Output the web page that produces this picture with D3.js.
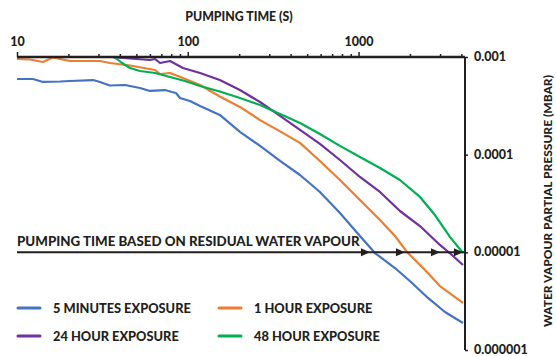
<!DOCTYPE html>
<html>
<head>
<meta charset="utf-8">
<script src="https://cdn.jsdelivr.net/npm/d3@7"></script>
<style>
  body { margin: 0; background: #fff; }
  text { font-family: Lato, "Open Sans", sans-serif; font-weight: 900; fill: #231f20; }
</style>
</head>
<body>
<div id="chart"></div>
<script>
// pumping time (s) and water vapour partial pressure (mbar)
const timeBlue = [10, 12.4, 14.2, 17.9, 20.4, 27.9, 30.6, 35.0, 42.9, 52.5, 60.1, 73.6, 80.8, 85.3, 90.0, 103, 118, 154, 202, 265, 347, 454, 594, 778, 1019, 1247, 1634, 2027, 2549, 3206, 4086];
const presBlue = [5.95e-4, 5.95e-4, 5.55e-4, 5.61e-4, 5.68e-4, 5.81e-4, 5.55e-4, 5.11e-4, 5.17e-4, 4.82e-4, 4.49e-4, 4.59e-4, 4.38e-4, 4.28e-4, 3.80e-4, 3.54e-4, 3.15e-4, 2.55e-4, 1.71e-4, 1.23e-4, 8.62e-5, 6.19e-5, 4.15e-5, 2.53e-5, 1.47e-5, 9.84e-6, 6.91e-6, 4.97e-6, 3.41e-6, 2.45e-6, 1.89e-6];

const timeOrange = [10, 11.9, 14.2, 16.2, 20.4, 30.6, 35.0, 45.9, 64.3, 68.8, 78.7, 93.7, 118, 154, 202, 265, 347, 454, 594, 778, 1019, 1335, 1634, 1920, 2448, 2996, 4086];
const presOrange = [9.54e-4, 9.43e-4, 8.89e-4, 9.9e-4, 9.1e-4, 9.1e-4, 8.68e-4, 8.18e-4, 7.36e-4, 6.70e-4, 6.86e-4, 6.10e-4, 5.17e-4, 3.94e-4, 3.08e-4, 2.26e-4, 1.73e-4, 1.32e-4, 8.62e-5, 5.50e-5, 3.43e-5, 2.14e-5, 1.47e-5, 1.01e-5, 6.59e-6, 4.52e-6, 3.03e-6];

const timePurple = [36.5, 45.9, 60.1, 64.3, 68.8, 78.7, 93.7, 118, 154, 202, 265, 347, 454, 594, 778, 1019, 1335, 1747, 2288, 2996, 3522, 4086];
const presPurple = [9.95e-4, 9.65e-4, 9.32e-4, 9.54e-4, 8.68e-4, 9.1e-4, 7.72e-4, 6.86e-4, 5.81e-4, 4.59e-4, 3.46e-4, 2.49e-4, 1.79e-4, 1.29e-4, 8.82e-5, 5.91e-5, 4.15e-5, 2.65e-5, 1.86e-5, 1.19e-5, 9.39e-6, 7.42e-6];

const timeGreen = [37.0, 38.5, 41.2, 45.9, 52.5, 64.3, 78.7, 96.3, 118, 154, 202, 265, 347, 454, 594, 778, 1019, 1335, 1747, 2288, 2801, 3428, 4086];
const presGreen = [1.0e-3, 9.54e-4, 8.68e-4, 7.72e-4, 7.19e-4, 6.86e-4, 6.24e-4, 5.68e-4, 5.05e-4, 4.43e-4, 3.80e-4, 3.23e-4, 2.61e-4, 2.11e-4, 1.63e-4, 1.23e-4, 9.46e-5, 7.30e-5, 5.50e-5, 3.69e-5, 2.41e-5, 1.44e-5, 9.84e-6];

const seriesNames = ['5 MINUTES EXPOSURE', '1 HOUR EXPOSURE', '24 HOUR EXPOSURE', '48 HOUR EXPOSURE'];
const seriesColors = ['#4472c4', '#ed7d31', '#7030a0', '#00b050'];

const xTicks = [10, 100, 1000];
const yTicks = [0.001, 0.0001, 0.00001, 0.000001];
const yTickLabels = ['0.001', '0.0001', '0.00001', '0.000001'];

// residual water vapour level and the pumping times where each curve reaches it
const residualLevel = 0.00001;
const crossTimes = [1166, 1869, 2996, 4086];

const width = 556, height = 356;
const margin = {left: 17, right: 465, top: 57, bottom: 350};

const svg = d3.select('#chart').append('svg')
  .attr('width', width)
  .attr('height', height);

const x = d3.scaleLog().domain([10, 4200]).range([margin.left, margin.right]);
const y = d3.scaleLog().domain([0.001, 0.000001]).range([margin.top, margin.bottom]);

const series = [
  d3.zip(timeBlue, presBlue),
  d3.zip(timeOrange, presOrange),
  d3.zip(timePurple, presPurple),
  d3.zip(timeGreen, presGreen)
];

const line = d3.line()
  .x(d => x(d[0]))
  .y(d => y(d[1]));

// curves
svg.append('g').selectAll('path')
  .data(series)
  .enter().append('path')
  .attr('d', line)
  .attr('fill', 'none')
  .attr('stroke', (d, i) => seriesColors[i])
  .attr('stroke-width', 2.2)
  .attr('stroke-linejoin', 'round');

// top x axis with minor ticks
const minor = [];
for (let dec = 10; dec < 4200; dec *= 10) {
  for (let k = 1; k < 10; k++) if (dec * k <= 4200) minor.push(dec * k);
}
const xAxis = svg.append('g')
  .attr('class', 'axis axis-x')
  .attr('transform', `translate(0,${margin.top})`)
  .call(d3.axisTop(x).tickValues(minor).tickSize(3).tickFormat(d => xTicks.includes(d) ? d : ''));
xAxis.select('.domain').attr('stroke', '#231f20').attr('stroke-width', 2.5).attr('d', `M${margin.left},0H${margin.right}`);
xAxis.selectAll('.tick line').attr('stroke', '#231f20').attr('stroke-width', 1.5)
  .attr('y2', d => xTicks.includes(d) ? -5 : -3);
xAxis.selectAll('.tick text').attr('y', -11).style('font-size', '12.5px');

// right y axis
const yAxis = svg.append('g')
  .attr('class', 'axis axis-y')
  .attr('transform', `translate(${margin.right},0)`)
  .call(d3.axisRight(y).tickValues(yTicks).tickSize(3).tickFormat((d, i) => yTickLabels[i]));
yAxis.select('.domain').attr('stroke', '#231f20').attr('stroke-width', 2).attr('d', `M0,${margin.top}V${margin.bottom}`);
yAxis.selectAll('.tick line').attr('stroke', '#231f20').attr('stroke-width', 1.5);
yAxis.selectAll('.tick text').attr('x', 9).attr('dy', '0.28em').style('font-size', '12.5px');

// axis titles
svg.append('text')
  .attr('x', 239).attr('y', 21)
  .attr('text-anchor', 'middle')
  .style('font-size', '12.3px')
  .text('PUMPING TIME (S)');

svg.append('text')
  .attr('transform', `translate(552,201) rotate(-90)`)
  .attr('text-anchor', 'middle')
  .style('font-size', '12px')
  .text('WATER VAPOUR PARTIAL PRESSURE (MBAR)');

// residual water vapour line with arrows
svg.append('line')
  .attr('x1', margin.left).attr('x2', margin.right)
  .attr('y1', y(residualLevel)).attr('y2', y(residualLevel))
  .attr('stroke', '#231f20').attr('stroke-width', 2);

svg.append('g').selectAll('path')
  .data(crossTimes)
  .enter().append('path')
  .attr('d', d => `M${x(d)},${y(residualLevel)}l-9,-4v8z`)
  .attr('fill', '#231f20');

svg.append('text')
  .attr('x', margin.left).attr('y', y(residualLevel) - 6)
  .style('font-size', '13.3px')
  .text('PUMPING TIME BASED ON RESIDUAL WATER VAPOUR');

// legend
const legend = svg.append('g').selectAll('g')
  .data(seriesNames)
  .enter().append('g')
  .attr('transform', (d, i) => `translate(${18 + (i % 2) * 201},${308 + Math.floor(i / 2) * 28})`);
legend.append('line')
  .attr('x1', 0).attr('x2', 22)
  .attr('stroke', (d, i) => seriesColors[i])
  .attr('stroke-width', 3)
  .attr('stroke-linecap', 'round');
legend.append('text')
  .attr('x', 35).attr('y', 4.5)
  .style('font-size', '12.8px')
  .text(d => d);
</script>
</body>
</html>
